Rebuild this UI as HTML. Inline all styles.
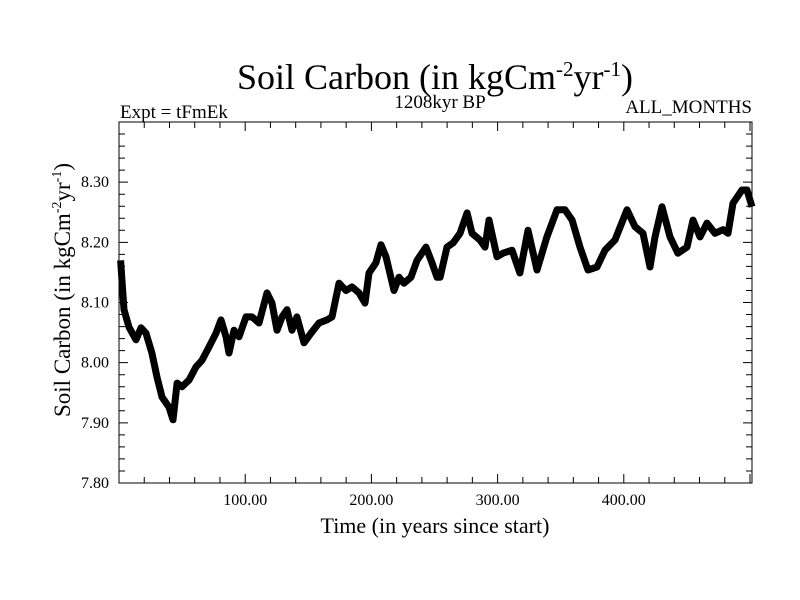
<!DOCTYPE html>
<html><head><meta charset="utf-8"><style>
html,body{margin:0;padding:0;background:#fff;}
svg{display:block;font-family:"Liberation Serif",serif;}
</style></head><body>
<svg id="chart" width="800" height="600" viewBox="0 0 800 600" xmlns="http://www.w3.org/2000/svg">
<rect width="800" height="600" fill="#fff"/>
<text x="435" y="89" font-size="36" text-anchor="middle">Soil Carbon (in kgCm<tspan dy="-13" font-size="21">-2</tspan><tspan dy="13">yr</tspan><tspan dy="-13" font-size="21">-1</tspan><tspan dy="13">)</tspan></text>
<text x="120" y="118" font-size="19">Expt = tFmEk</text>
<text x="440" y="108" font-size="19" text-anchor="middle">1208kyr BP</text>
<text x="752" y="113" font-size="19" text-anchor="end">ALL_MONTHS</text>
<text x="435" y="533" font-size="22" text-anchor="middle">Time (in years since start)</text>
<text transform="translate(70,290) rotate(-90)" font-size="23" text-anchor="middle">Soil Carbon (in kgCm<tspan dy="-9" font-size="14">-2</tspan><tspan dy="9">yr</tspan><tspan dy="-9" font-size="14">-1</tspan><tspan dy="9">)</tspan></text>
<g id="axes"></g>
<g id="series"></g>
<rect x="119" y="122" width="633" height="361" fill="none" stroke="#000" stroke-width="1"/>
</svg>
<script>
const years = [1.3,4,7.9,13.5,17.4,21.4,26.1,30.1,34.1,39.6,42.8,46,49.9,55.5,61,65.8,71.3,76.9,80.8,84.8,87.2,91.1,95.1,100.6,105.4,110.9,117.3,121.2,125.2,129.2,133.1,137.1,141,146.6,152.1,158.5,164.8,168.8,174.3,179.9,184.6,190.2,194.9,198.1,203.6,207.6,211.6,217.9,221.9,225.8,231.4,236.1,243.3,248,252,254.4,259.9,264.7,270.2,275.8,279.7,286,290,293.2,299.5,304.3,311.4,317.7,324.1,331.2,339.1,347.1,353.4,359,365.3,371.6,378.8,385.1,393,402.5,408.9,415.2,420.8,424.7,430.3,436.6,442.9,450.1,454.8,460.4,465.9,472.3,478.6,482.6,486.5,493.7,497.6,501.6];
const carbon = [8.17,8.088,8.059,8.038,8.058,8.049,8.016,7.976,7.943,7.926,7.905,7.966,7.96,7.971,7.993,8.004,8.026,8.049,8.071,8.043,8.016,8.054,8.043,8.076,8.076,8.066,8.116,8.099,8.054,8.076,8.088,8.054,8.076,8.033,8.049,8.066,8.071,8.076,8.132,8.12,8.126,8.116,8.099,8.149,8.166,8.196,8.176,8.12,8.142,8.132,8.142,8.17,8.192,8.166,8.142,8.142,8.192,8.199,8.215,8.249,8.215,8.204,8.192,8.237,8.176,8.182,8.187,8.149,8.22,8.154,8.209,8.254,8.254,8.237,8.192,8.154,8.159,8.187,8.204,8.254,8.226,8.215,8.159,8.209,8.259,8.209,8.182,8.192,8.237,8.209,8.232,8.215,8.221,8.215,8.265,8.287,8.287,8.259];
const xTickValues = [100,200,300,400];
const xTickLabels = ["100.00","200.00","300.00","400.00"];
const yTickValues = [7.8,7.9,8.0,8.1,8.2,8.3];
const yTickLabels = ["7.80","7.90","8.00","8.10","8.20","8.30"];

const L=119,R=752,T=122,B=483, X0=0, X1=(R-L)/1.262, Y0=7.8, Y1=8.4;
const xs=v=>L+(v-X0)/(X1-X0)*(R-L);
const ys=v=>B-(v-Y0)/(Y1-Y0)*(B-T);
const NS='http://www.w3.org/2000/svg';
const axes=document.getElementById('axes');
function mk(tag,attrs,parent){const e=document.createElementNS(NS,tag);for(const k in attrs)e.setAttribute(k,attrs[k]);parent.appendChild(e);return e;}
for(let v=20;v<X1;v+=20){
  const major=v%100===0, len=major?9:6, x=xs(v);
  const t=mk('path',{d:`M${x},${B}V${B-len}M${x},${T}V${T+len}`,stroke:'#000','stroke-width':1},axes);
  
  
}
xTickValues.forEach((v,i)=>{
  const t=mk('text',{x:xs(v),y:B+22,'font-size':16,'text-anchor':'middle'},axes);
  t.textContent=xTickLabels[i];
  
  
});
for(let k=0;k<=30;k++){
  const v=Y0+k*0.02, major=k%5===0, len=major?9:6, y=ys(v);
  const t=mk('path',{d:`M${L},${y}H${L+len}M${R},${y}H${R-len}`,stroke:'#000','stroke-width':1},axes);
  
  
}
yTickValues.forEach((v,i)=>{
  const t=mk('text',{x:L-10,y:ys(v)+5,'font-size':16,'text-anchor':'end'},axes);
  t.textContent=yTickLabels[i];
  
  
});
const d=years.map((yr,i)=>(i?'L':'M')+xs(yr).toFixed(1)+','+ys(carbon[i]).toFixed(1)).join('');
const line=mk('path',{d:d,fill:'none',stroke:'#000','stroke-width':7,'stroke-linejoin':'round','stroke-linecap':'butt'},document.getElementById('series'));


</script>
</body></html>
